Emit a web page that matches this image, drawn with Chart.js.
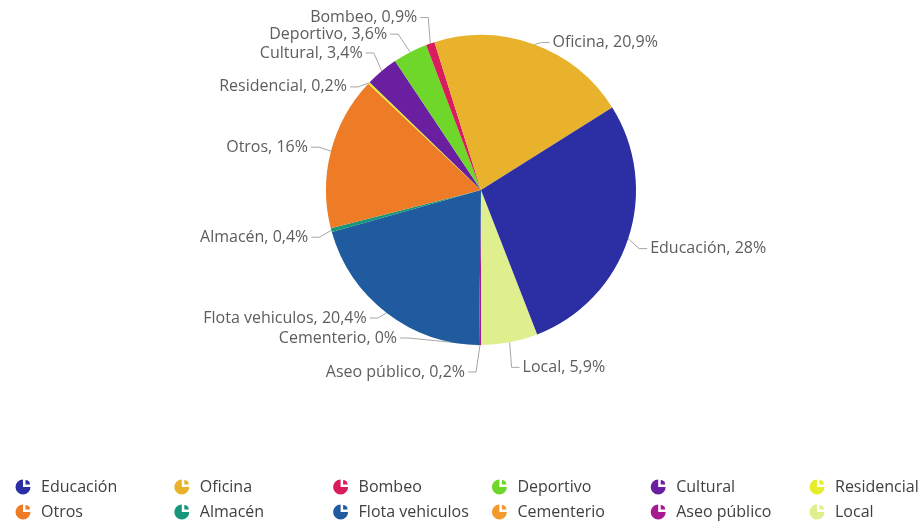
<!DOCTYPE html>
<html lang="es">
<head>
<meta charset="utf-8">
<title>Consumo por tipo de instalación</title>
<script src="https://cdn.jsdelivr.net/npm/chart.js@4.4.1/dist/chart.umd.min.js"></script>
<style>
  html, body { margin: 0; padding: 0; background: #fff; }
  #wrap { width: 919px; height: 527px; position: relative; }
</style>
</head>
<body>
<div id="wrap"><canvas id="pie" width="919" height="527"></canvas></div>
<script>
// Share of consumption per facility type (%), in legend order
const categories = ["Educación", "Oficina", "Bombeo", "Deportivo", "Cultural", "Residencial",
  "Otros", "Almacén", "Flota vehiculos", "Cementerio", "Aseo público", "Local"];
const shares = [28, 20.9, 0.9, 3.6, 3.4, 0.2, 16, 0.4, 20.4, 0, 0.2, 5.9];
const colors = ["#2b2fa3", "#e9b22c", "#d81c5c", "#6fd62a", "#6a1fa0", "#e6ee2c",
  "#ee7b25", "#16977c", "#1f5b9e", "#f29a30", "#a61a90", "#e0ef8e"];

// where each data label sits, relative to the slice edge point: [dx, dy]
const labelOffsets = [[22, 10], [18, -2], [-13, -26], [-23, -18], [-19, -18], [-22, 4],
  [-23, -4], [-23, 7], [-20, 5], [-82, -7], [-15, 27], [13, 25]];

const FONT = '16px "Open Sans", "Noto Sans", sans-serif';
const LABEL_COLOR = "#5f5d5b";
const LINE_COLOR = "#a6a6a6";

// the pie runs the other way round from the legend, so feed it reversed
const order = categories.map((_, i) => i).reverse();
const total = shares.reduce((a, b) => a + b, 0);
// last legend item ends straight below the centre
const startDeg = 180 - shares[order[0]] / total * 360;

function fmt(v) {
  return String(v).replace(".", ",") + "%";
}

function anchorOf(arc) {
  const a = (arc.startAngle + arc.endAngle) / 2;
  return { x: arc.x + Math.cos(a) * arc.outerRadius, y: arc.y + Math.sin(a) * arc.outerRadius };
}

function labelPos(arc, idx) {
  const p = anchorOf(arc);
  const [dx, dy] = labelOffsets[idx];
  return { p, tx: p.x + dx, ty: p.y + dy, right: dx > 0 };
}

const pieLabels = {
  id: "pieLabels",
  // leader lines go under the slices so they stop at the edge
  beforeDatasetsDraw(chart) {
    const ctx = chart.ctx;
    const meta = chart.getDatasetMeta(0);
    ctx.save();
    ctx.strokeStyle = LINE_COLOR;
    ctx.lineWidth = 1;
    meta.data.forEach((arc, j) => {
      const idx = order[j];
      const { p, tx, ty, right } = labelPos(arc, idx);
      const s = right ? 1 : -1;
      const elbowX = tx - s * Math.min(Math.abs(tx - p.x), 11);
      ctx.beginPath();
      ctx.moveTo(p.x, p.y);
      ctx.lineTo(elbowX, ty);
      ctx.lineTo(tx - s * 3, ty);
      ctx.stroke();
    });
    ctx.restore();
  },
  afterDatasetsDraw(chart) {
    const ctx = chart.ctx;
    const meta = chart.getDatasetMeta(0);
    ctx.save();
    ctx.font = FONT;
    ctx.fillStyle = LABEL_COLOR;
    ctx.textBaseline = "middle";
    meta.data.forEach((arc, j) => {
      const idx = order[j];
      const { tx, ty, right } = labelPos(arc, idx);
      ctx.textAlign = right ? "left" : "right";
      ctx.fillText(categories[idx] + ", " + fmt(shares[idx]), tx, ty);
    });
    ctx.restore();
  }
};

// small pie glyph used as the legend marker: three quarters plus a pulled-out wedge
function drawIcon(ctx, cx, cy, color) {
  ctx.fillStyle = color;
  ctx.beginPath();
  ctx.moveTo(cx, cy);
  ctx.arc(cx, cy, 7.5, 0, 1.5 * Math.PI);
  ctx.closePath();
  ctx.fill();
  ctx.beginPath();
  ctx.moveTo(cx + 2.5, cy - 2.5);
  ctx.arc(cx + 2.5, cy - 2.5, 4.5, 1.5 * Math.PI, 2 * Math.PI);
  ctx.closePath();
  ctx.fill();
}

const gridLegend = {
  id: "gridLegend",
  afterDraw(chart) {
    const ctx = chart.ctx;
    ctx.save();
    ctx.font = FONT;
    ctx.textBaseline = "middle";
    ctx.textAlign = "left";
    categories.forEach((name, i) => {
      const col = i % 6, row = Math.floor(i / 6);
      const x = 41 + col * 158.8;
      const y = 487 + row * 25;
      drawIcon(ctx, x - 18, y, colors[i]);
      ctx.fillStyle = "#404040";
      ctx.fillText(name, x, y);
    });
    ctx.restore();
  }
};

new Chart(document.getElementById("pie"), {
  type: "pie",
  data: {
    labels: order.map(i => categories[i]),
    datasets: [{
      data: order.map(i => shares[i]),
      backgroundColor: order.map(i => colors[i]),
      borderWidth: 0,
    }],
  },
  options: {
    responsive: false,
    animation: false,
    rotation: startDeg,
    layout: { padding: { top: 35, bottom: 182, left: 43, right: 0 } },
    plugins: {
      legend: { display: false },
      tooltip: { enabled: false },
    },
  },
  plugins: [pieLabels, gridLegend],
});
</script>
</body>
</html>
